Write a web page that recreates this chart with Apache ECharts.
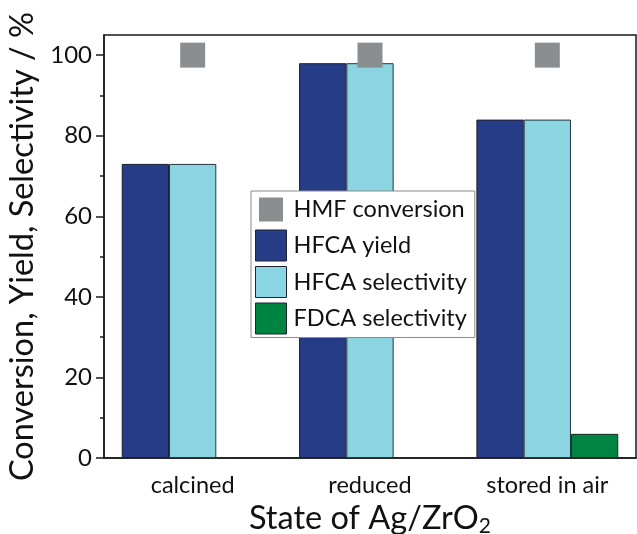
<!DOCTYPE html>
<html>
<head>
<meta charset="utf-8">
<script src="https://cdn.jsdelivr.net/npm/echarts@6/dist/echarts.min.js"></script>
<style>
html,body{margin:0;padding:0;background:#fff;}
#chart{width:637px;height:534px;}
</style>
</head>
<body>
<div id="chart"></div>
<script>
const categories = ['calcined', 'reduced', 'stored in air'];
const hmfConversion = [100, 100, 100];
const hfcaYield = [73, 98, 84];
const hfcaSelectivity = [73, 98, 84];
const fdcaSelectivity = [null, null, 6];
const majorTicks = [0, 20, 40, 60, 80, 100];
const minorTicks = [10, 30, 50, 70, 90];
const seriesNames = ['HMF conversion', 'HFCA yield', 'HFCA selectivity', 'FDCA selectivity'];

const FONT = 'Lato';
const chart = echarts.init(document.getElementById('chart'), null, {renderer: 'canvas'});
const border = {borderColor: '#1f2330', borderWidth: 1};

chart.setOption({
  animation: false,
  backgroundColor: '#ffffff',
  textStyle: {fontFamily: FONT, color: '#111'},
  grid: {left: 104, right: 1, top: 35, bottom: 76, show: true, borderColor: '#1a1a1a', borderWidth: 1.5,
         backgroundColor: 'transparent', containLabel: false, outerBoundsMode: 'none'},
  legend: {
    orient: 'vertical', left: 251, top: 191,
    backgroundColor: '#fff', borderColor: '#8a8a8a', borderWidth: 1,
    padding: [3, 8, 3, 4], itemWidth: 31, itemHeight: 31, itemGap: 4.5,
    selectedMode: false,
    textStyle: {fontFamily: FONT, fontSize: 23.5, color: '#111', padding: [0, 0, 0, 2]},
    data: [
      {name: seriesNames[0], icon: 'path://M0,0h0.01v0.01h-0.01zM31,31h0.01v0.01h-0.01zM3.5,3.5h24v24h-24z', itemStyle: {borderWidth: 0}},
      {name: seriesNames[1], icon: 'rect', itemStyle: border},
      {name: seriesNames[2], icon: 'rect', itemStyle: border},
      {name: seriesNames[3], icon: 'rect', itemStyle: border}
    ]
  },
  xAxis: {
    type: 'category', data: categories,
    axisLine: {lineStyle: {color: '#1a1a1a', width: 1.5}},
    axisTick: {alignWithLabel: true, length: 8, lineStyle: {color: '#1a1a1a', width: 1.5}},
    axisLabel: {fontFamily: FONT, fontSize: 23.5, color: '#111', margin: 15},
    name: 'State of Ag/ZrO{sub|2}', nameLocation: 'middle', nameGap: 37,
    nameTextStyle: {fontFamily: FONT, fontSize: 32.5, color: '#111',
      rich: {sub: {fontFamily: FONT, fontSize: 21, color: '#111', verticalAlign: 'bottom', padding: [16, 0, 0, 0]}}}
  },
  yAxis: [
    {
      type: 'value', min: 0, max: 105, interval: 20,
      axisLine: {show: true, lineStyle: {color: '#1a1a1a', width: 1.5}},
      axisTick: {show: true, length: 8, customValues: majorTicks, lineStyle: {color: '#1a1a1a', width: 1.5}},
      axisLabel: {fontFamily: FONT, fontSize: 24, color: '#111', margin: 12, customValues: majorTicks},
      splitLine: {show: false},
      name: 'Conversion, Yield, Selectivity / %', nameLocation: 'middle', nameGap: 55,
      nameTextStyle: {fontFamily: FONT, fontSize: 32.5, color: '#111'}
    },
    {
      type: 'value', min: 0, max: 105, position: 'left', offset: 0,
      axisLine: {show: false},
      axisTick: {show: true, length: 4, customValues: minorTicks, lineStyle: {color: '#1a1a1a', width: 1.5}},
      axisLabel: {show: false},
      splitLine: {show: false}
    }
  ],
  series: [
    {name: seriesNames[0], type: 'scatter', data: hmfConversion, symbol: 'rect', symbolSize: 25, z: 5,
     itemStyle: {color: '#8a8e91', opacity: 1}},
    {name: seriesNames[1], type: 'bar', data: hfcaYield, barGap: '0%', barCategoryGap: '20%',
     itemStyle: {color: '#263c87', borderColor: '#1a1f2e', borderWidth: 1}},
    {name: seriesNames[2], type: 'bar', data: hfcaSelectivity, barGap: '0%', barCategoryGap: '20%',
     itemStyle: {color: '#8ad5e1', borderColor: '#2a3340', borderWidth: 1}},
    {name: seriesNames[3], type: 'bar', data: fdcaSelectivity, barGap: '0%', barCategoryGap: '20%',
     itemStyle: {color: '#008540', borderColor: '#1a2a22', borderWidth: 1}}
  ]
});
</script>
</body>
</html>
